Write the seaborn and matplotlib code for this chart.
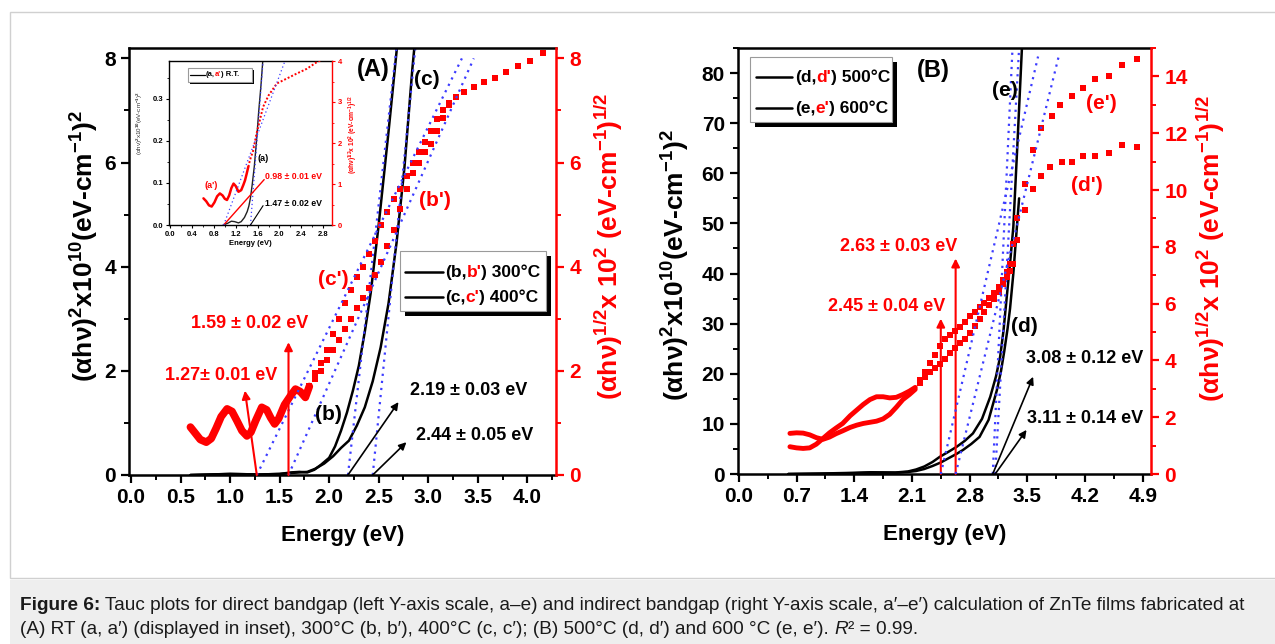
import matplotlib
matplotlib.use('Agg')
import matplotlib.pyplot as plt
import seaborn as sns
from matplotlib.patches import Rectangle
from matplotlib.lines import Line2D
from matplotlib.offsetbox import TextArea, HPacker, AnnotationBbox
from matplotlib.ticker import MultipleLocator, FormatStrFormatter

# ---------------- data ----------------
# Panel A, left axis: (alpha h nu)^2 x 10^10
E_b = [0.60, 1.00, 1.30, 1.50, 1.62, 1.70, 1.78, 1.85, 1.92, 2.00, 2.06, 2.12, 2.18, 2.24, 2.30, 2.36, 2.42, 2.50, 2.60, 2.70]
y_b = [0.00, 0.02, 0.01, 0.02, 0.05, 0.06, 0.05, 0.10, 0.20, 0.33, 0.55, 0.85, 1.20, 1.62, 2.10, 2.75, 3.50, 4.80, 6.60, 8.50]
E_c = [0.60, 1.00, 1.30, 1.50, 1.62, 1.70, 1.78, 1.86, 1.95, 2.04, 2.12, 2.20, 2.28, 2.36, 2.44, 2.52, 2.60, 2.68, 2.76, 2.84, 2.92]
y_c = [0.00, 0.02, 0.01, 0.02, 0.04, 0.05, 0.06, 0.12, 0.22, 0.36, 0.52, 0.66, 0.95, 1.30, 1.80, 2.45, 3.30, 4.45, 5.90, 7.80, 9.40]
# Panel A, right axis: (alpha h nu)^1/2 x 10^2 (overlapping low-energy part of b', c')
EA_osc = [0.60, 0.65, 0.70, 0.76, 0.81, 0.86, 0.91, 0.97, 1.02, 1.07, 1.12, 1.17, 1.21, 1.26, 1.32, 1.37, 1.41, 1.45, 1.49, 1.55, 1.61, 1.66, 1.71, 1.76, 1.80]
yA_osc = [0.92, 0.80, 0.68, 0.63, 0.70, 0.90, 1.12, 1.27, 1.22, 1.04, 0.85, 0.75, 0.82, 1.05, 1.30, 1.25, 1.10, 0.98, 1.08, 1.35, 1.52, 1.65, 1.60, 1.49, 1.70]
E_cp = [1.80, 1.86, 1.92, 1.98, 2.04, 2.10, 2.16, 2.22, 2.28, 2.34, 2.40, 2.46, 2.52, 2.58, 2.65, 2.72, 2.79, 2.85, 2.91, 2.97, 3.03, 3.09, 3.15, 3.21,
        3.28, 3.36, 3.46, 3.56, 3.67, 3.79, 3.91, 4.03, 4.16]
y_cp = [1.70, 1.95, 2.15, 2.40, 2.70, 3.00, 3.30, 3.55, 3.80, 4.00, 4.25, 4.50, 4.80, 5.05, 5.30, 5.50, 5.75, 6.00, 6.20, 6.40, 6.60, 6.83, 7.00, 7.15,
        7.25, 7.35, 7.45, 7.54, 7.63, 7.73, 7.85, 7.95, 8.11]
E_bp = [1.80, 1.86, 1.92, 1.98, 2.04, 2.10, 2.16, 2.22, 2.28, 2.34, 2.40, 2.46, 2.52, 2.58, 2.65, 2.72, 2.79, 2.85, 2.91, 2.97, 3.03, 3.09, 3.15, 3.21]
y_bp = [1.70, 1.85, 2.00, 2.20, 2.40, 2.60, 2.80, 3.00, 3.20, 3.40, 3.60, 3.85, 4.10, 4.40, 4.70, 5.10, 5.50, 5.80, 6.00, 6.20, 6.35, 6.60, 6.85, 7.10]
# Panel A tangent fits
gapA_black = [2.19, 2.44]
topA_black = [2.68, 2.87]
gapA_red = [1.27, 1.59]
topA_red = [3.34, 3.46]

# Inset (RT film)
EI_a = [0.97, 1.05, 1.12, 1.18, 1.25, 1.30, 1.36, 1.41, 1.44, 1.47, 1.50, 1.54, 1.58, 1.62, 1.66, 1.70]
yI_a = [0.000, 0.004, 0.009, 0.008, 0.005, 0.008, 0.018, 0.032, 0.045, 0.065, 0.095, 0.14, 0.20, 0.27, 0.33, 0.40]
EI_osc = [0.61, 0.66, 0.71, 0.76, 0.81, 0.86, 0.91, 0.96, 1.00, 1.04, 1.08, 1.12, 1.16, 1.20, 1.25, 1.30, 1.34, 1.37, 1.40, 1.43]
yI_osc = [0.65, 0.58, 0.48, 0.45, 0.55, 0.70, 0.77, 0.72, 0.64, 0.61, 0.72, 0.90, 1.01, 0.95, 0.81, 0.85, 0.98, 1.09, 1.25, 1.42]
EI_ap = [1.43, 1.46, 1.52, 1.58, 1.64, 1.70, 1.80, 1.95, 2.13, 2.31, 2.50, 2.68, 2.80]
yI_ap = [1.42, 1.58, 1.82, 2.23, 2.55, 2.88, 3.16, 3.45, 3.57, 3.69, 3.81, 3.97, 4.05]
gapI_black, topI_black = 1.47, 1.70
gapI_red, topI_red = 0.98, 2.10

# Panel B, left axis
EB_e = [0.60, 1.00, 1.30, 1.60, 1.90, 2.05, 2.15, 2.25, 2.35, 2.44, 2.54, 2.64, 2.74, 2.84, 2.95, 3.05, 3.12, 3.17, 3.21, 3.25, 3.29, 3.33, 3.38, 3.44]
yB_e = [0.0, 0.1, 0.2, 0.35, 0.3, 0.5, 0.9, 1.5, 2.4, 3.45, 4.4, 5.4, 6.6, 8.1, 11.0, 15.4, 19.5, 23.4, 28.5, 35.3, 42.0, 49.3, 66.0, 87.0]
EB_d = [0.60, 1.00, 1.30, 1.60, 1.90, 2.05, 2.15, 2.25, 2.35, 2.45, 2.55, 2.64, 2.72, 2.82, 2.92, 3.03, 3.13, 3.18, 3.22, 3.26, 3.29, 3.33, 3.37, 3.40]
yB_d = [0.0, 0.05, 0.1, 0.25, 0.25, 0.4, 0.6, 1.0, 1.6, 2.3, 3.2, 4.0, 4.8, 6.0, 7.4, 10.8, 16.7, 20.5, 24.5, 29.0, 33.0, 40.0, 48.6, 55.0]
# Panel B, right axis
EB_line = [0.62, 0.70, 0.78, 0.86, 0.94, 1.02, 1.10, 1.18, 1.26, 1.35, 1.43, 1.51, 1.59, 1.67, 1.75, 1.83, 1.91, 1.99, 2.07, 2.14]
yB_dp_line = [1.43, 1.45, 1.44, 1.38, 1.28, 1.22, 1.30, 1.42, 1.52, 1.64, 1.72, 1.78, 1.82, 1.86, 1.94, 2.10, 2.35, 2.62, 2.80, 2.98]
yB_ep_line = [0.96, 0.92, 0.90, 0.92, 1.05, 1.25, 1.45, 1.62, 1.78, 2.05, 2.25, 2.45, 2.62, 2.72, 2.72, 2.68, 2.70, 2.80, 2.92, 3.05]
EB_ep = [2.20, 2.26, 2.32, 2.38, 2.44, 2.50, 2.56, 2.62, 2.68, 2.74, 2.80, 2.86, 2.92, 2.98, 3.04, 3.10, 3.16, 3.21, 3.25, 3.29, 3.33,
         3.37, 3.47, 3.57, 3.67, 3.80, 3.90, 4.04, 4.18, 4.32, 4.49, 4.65, 4.83]
yB_ep = [3.30, 3.60, 3.90, 4.20, 4.50, 4.75, 4.90, 5.02, 5.18, 5.36, 5.55, 5.72, 5.88, 6.03, 6.20, 6.38, 6.60, 6.82, 7.10, 7.41, 8.11,
         9.00, 10.20, 11.40, 12.20, 12.60, 13.00, 13.30, 13.60, 13.90, 14.00, 14.40, 14.60]
EB_dp = [2.20, 2.26, 2.32, 2.38, 2.44, 2.50, 2.56, 2.62, 2.68, 2.74, 2.80, 2.86, 2.92, 2.98, 3.04, 3.10, 3.16, 3.21, 3.25, 3.29, 3.33,
         3.37, 3.47, 3.57, 3.67, 3.78, 3.92, 4.04, 4.18, 4.32, 4.49, 4.65, 4.83]
yB_dp = [3.20, 3.40, 3.58, 3.74, 3.89, 4.05, 4.25, 4.42, 4.60, 4.77, 4.97, 5.20, 5.45, 5.70, 5.96, 6.15, 6.40, 6.70, 6.94, 7.15, 7.41,
         8.23, 9.29, 10.05, 10.50, 10.80, 11.00, 11.00, 11.20, 11.20, 11.30, 11.60, 11.50]
gapB_black = [3.08, 3.11]
topB_black = [3.32, 3.40]
gapB_red = [2.45, 2.63]
topB_red = [3.63, 3.88]

# ---------------- style ----------------
sns.set_theme(style='ticks')
plt.rcParams.update({
    'font.family': ['Liberation Sans', 'DejaVu Sans'],
    'font.weight': 'bold',
    'text.color': 'black',
    'axes.labelcolor': 'black',
    'axes.linewidth': 1.8,
    'xtick.major.width': 1.6, 'ytick.major.width': 1.6,
    'xtick.minor.width': 1.4, 'ytick.minor.width': 1.4,
    'xtick.major.size': 6, 'ytick.major.size': 6,
    'xtick.minor.size': 3.5, 'ytick.minor.size': 3.5,
    'xtick.direction': 'out', 'ytick.direction': 'out',
    'xtick.color': 'black', 'ytick.color': 'black',
    'xtick.labelcolor': 'black', 'ytick.labelcolor': 'black',
    'axes.edgecolor': 'black',
    'mathtext.fontset': 'custom',
    'mathtext.rm': 'Liberation Sans:bold',
    'mathtext.it': 'Liberation Sans:bold:italic',
    'mathtext.bf': 'Liberation Sans:bold',
    'mathtext.default': 'rm',
})

W, H = 1275, 644
fig = plt.figure(figsize=(W / 100, H / 100), dpi=100)
fig.patch.set_facecolor('white')


def rect(l, t, r, b):
    return [l / W, 1 - b / H, (r - l) / W, (b - t) / H]


fig.add_artist(Rectangle((10 / W, 1 - 578 / H), 1.0, (578 - 12) / H, transform=fig.transFigure,
                         facecolor='white', edgecolor='#d0d0d0', lw=1.0, zorder=-10))
fig.add_artist(Rectangle((10 / W, 0), 1.0, (644 - 580) / H, transform=fig.transFigure,
                         facecolor='#eeeeee', edgecolor='none', zorder=-10))

RED = '#ff0000'
BLUE = '#3c3cff'


def style_pair(ax, axr, xmaj, xmin, ymaj, ymin, rmaj, rmin, xfmt, yfmt, rfmt, lsize, lw=1.8):
    ax.xaxis.set_major_locator(MultipleLocator(xmaj))
    ax.xaxis.set_minor_locator(MultipleLocator(xmin))
    ax.yaxis.set_major_locator(MultipleLocator(ymaj))
    ax.yaxis.set_minor_locator(MultipleLocator(ymin))
    ax.xaxis.set_major_formatter(FormatStrFormatter(xfmt))
    ax.yaxis.set_major_formatter(FormatStrFormatter(yfmt))
    ax.tick_params(axis='both', which='both', top=False, right=False, labelsize=lsize,
                   colors='black', labelcolor='black')
    ax.spines['right'].set_visible(False)
    for s in ['left', 'top', 'bottom']:
        ax.spines[s].set_linewidth(lw)
        ax.spines[s].set_color('black')
    for s in ['left', 'top', 'bottom']:
        axr.spines[s].set_visible(False)
    axr.spines['right'].set_color(RED)
    axr.spines['right'].set_linewidth(lw)
    axr.yaxis.set_major_locator(MultipleLocator(rmaj))
    axr.yaxis.set_minor_locator(MultipleLocator(rmin))
    axr.yaxis.set_major_formatter(FormatStrFormatter(rfmt))
    axr.tick_params(axis='y', which='both', colors=RED, labelcolor=RED, labelsize=lsize)
    for lab in ax.get_xticklabels() + ax.get_yticklabels() + axr.get_yticklabels():
        lab.set_fontweight('bold')


def tangent(ax, x0, x1, ytop, lw=1.6):
    sns.lineplot(x=[x0, x1], y=[0, ytop], ax=ax, color=BLUE, lw=lw, linestyle=(0, (1, 2.2)),
                 sort=False, estimator=None)


def mixed(parts, x_px, y_px, size, ha=0.0, va=0.5, z=30):
    boxes = [TextArea(t, textprops=dict(color=c, fontsize=size, fontweight=w, fontstyle=st))
             for t, c, w, st in parts]
    pack = HPacker(children=boxes, sep=0, pad=0, align='baseline')
    ab = AnnotationBbox(pack, (x_px, H - y_px), xycoords='figure pixels', box_alignment=(ha, va),
                        frameon=False, pad=0, annotation_clip=False)
    ab.set_zorder(z)
    fig.add_artist(ab)


def legend_box(l, t, r, b, off, rows, size, hx0, hx1, tx, lw_h=1.8):
    fig.add_artist(Rectangle(((l + off) / W, 1 - (b + off) / H), (r - l) / W, (b - t) / H,
                             transform=fig.transFigure, facecolor='black', edgecolor='none', zorder=24))
    fig.add_artist(Rectangle((l / W, 1 - b / H), (r - l) / W, (b - t) / H, transform=fig.transFigure,
                             facecolor='white', edgecolor='#9a9a9a', lw=0.8, zorder=25))
    for y, parts in rows:
        fig.add_artist(Line2D([hx0 / W, hx1 / W], [1 - y / H, 1 - y / H], transform=fig.transFigure,
                              color='black', lw=lw_h, zorder=26))
        mixed(parts, tx, y, size, z=27)


LBL_L = r'(αhν)$^{2}$x10$^{10}$(eV-cm$^{-1}$)$^{2}$'
LBL_R = r'(αhν)$^{1/2}$x 10$^{2}$ (eV-cm$^{-1}$)$^{1/2}$'

# ---------------- panel A ----------------
axA = fig.add_axes(rect(129, 48, 556, 475))
axAR = axA.twinx()
sns.lineplot(x=E_b, y=y_b, ax=axA, color='black', lw=1.8, sort=False, estimator=None)
sns.lineplot(x=E_c, y=y_c, ax=axA, color='black', lw=1.8, sort=False, estimator=None)
for g, t in zip(gapA_black, topA_black):
    tangent(axA, g, t, 8.2)
sns.lineplot(x=EA_osc, y=yA_osc, ax=axAR, color=RED, lw=5.5, sort=False, estimator=None)
sns.scatterplot(x=E_cp, y=y_cp, ax=axAR, color=RED, marker='s', s=24, linewidth=0)
sns.scatterplot(x=E_bp, y=y_bp, ax=axAR, color=RED, marker='s', s=24, linewidth=0)
for g, t in zip(gapA_red, topA_red):
    tangent(axAR, g, t, 8.0)
axA.set_xlim(-0.02, 4.29)
axA.set_ylim(0, 8.2)
axAR.set_ylim(0, 8.2)
style_pair(axA, axAR, 0.5, 0.25, 2, 1, 2, 1, '%.1f', '%d', '%d', 15)
axA.set_xlabel('Energy (eV)', fontsize=16, fontweight='bold', labelpad=13)
axA.set_ylabel(LBL_L, fontsize=19, fontweight='bold')
axA.yaxis.set_label_coords(-0.066, 0.536)
axAR.set_ylabel(LBL_R, fontsize=19, fontweight='bold', color=RED)
axAR.yaxis.set_label_coords(1.087, 0.535)

arr_r = dict(arrowstyle='-|>', color=RED, lw=1.5, mutation_scale=12, shrinkA=0, shrinkB=0)
arr_k = dict(arrowstyle='-|>', color='black', lw=1.2, mutation_scale=11, shrinkA=0, shrinkB=0)
axAR.annotate('', xy=(1.15, 1.62), xytext=(1.27, 0), arrowprops=arr_r)
axAR.annotate('', xy=(1.59, 2.55), xytext=(1.59, 0), arrowprops=arr_r)
axAR.annotate('', xy=(2.70, 1.40), xytext=(2.19, 0), arrowprops=arr_k)
axAR.annotate('', xy=(2.78, 0.63), xytext=(2.44, 0), arrowprops=arr_k)
axAR.text(0.91, 1.91, '1.27± 0.01 eV', color=RED, fontsize=13, fontweight='bold', ha='center', va='center')
axAR.text(1.20, 2.90, '1.59 ± 0.02 eV', color=RED, fontsize=13, fontweight='bold', ha='center', va='center')
axAR.text(3.41, 1.62, '2.19 ± 0.03 eV', color='black', fontsize=13, fontweight='bold', ha='center', va='center')
axAR.text(3.47, 0.75, '2.44 ± 0.05 eV', color='black', fontsize=13, fontweight='bold', ha='center', va='center')
axAR.text(2.45, 7.79, '(A)', color='black', fontsize=17, fontweight='bold', ha='center', va='center')
axAR.text(2.99, 7.60, '(c)', color='black', fontsize=15, fontweight='bold', ha='center', va='center')
axAR.text(1.99, 1.17, '(b)', color='black', fontsize=15, fontweight='bold', ha='center', va='center')
axAR.text(3.07, 5.27, "(b')", color=RED, fontsize=15, fontweight='bold', ha='center', va='center')
axAR.text(2.04, 3.76, "(c')", color=RED, fontsize=15, fontweight='bold', ha='center', va='center')

# ---------------- inset ----------------
axI = fig.add_axes(rect(169, 61, 332, 225))
axI.set_zorder(10)
axIR = axI.twinx()
axIR.set_zorder(11)
axI.patch.set_facecolor('white')
sns.lineplot(x=EI_a, y=yI_a, ax=axI, color='#222222', lw=1.0, sort=False, estimator=None)
tangent(axI, gapI_black, topI_black, 0.39, lw=0.9)
sns.lineplot(x=EI_osc, y=yI_osc, ax=axIR, color=RED, lw=1.8, sort=False, estimator=None)
sns.lineplot(x=EI_ap, y=yI_ap, ax=axIR, color=RED, lw=1.4, linestyle=(0, (1, 1)), sort=False, estimator=None)
tangent(axIR, gapI_red, topI_red, 4.0, lw=0.9)
axI.set_xlim(-0.02, 2.96)
axI.set_ylim(0, 0.39)
axIR.set_ylim(0, 4)
style_pair(axI, axIR, 0.4, 0.2, 0.1, 0.05, 1, 0.5, '%.1f', '%.1f', '%d', 5.5, lw=1.0)
axI.tick_params(axis='both', which='major', length=2.5, width=0.8, pad=1.5)
axI.tick_params(axis='both', which='minor', length=1.5, width=0.6)
axIR.tick_params(axis='y', which='major', length=2.5, width=0.8, pad=1.5)
axIR.tick_params(axis='y', which='minor', length=1.5, width=0.6)
axI.set_xlabel('Energy (eV)', fontsize=5.5, fontweight='bold', labelpad=1.5)
axI.set_ylabel(LBL_L, fontsize=4.5, fontweight='normal', color='#333333')
axI.yaxis.set_label_coords(-0.15, 0.62)
axIR.set_ylabel(LBL_R, fontsize=4.8, fontweight='bold', color=RED)
axIR.yaxis.set_label_coords(1.09, 0.55)
axI.plot([gapI_red, 1.72], [0, 0.108], color=RED, lw=1.0)
axI.plot([gapI_black, 1.70], [0, 0.046], color='black', lw=0.8)
axI.text(1.735, 0.115, '0.98 ± 0.01 eV', color=RED, fontsize=6.3, fontweight='bold', ha='left', va='center')
axI.text(1.735, 0.052, '1.47 ± 0.02 eV', color='black', fontsize=6.3, fontweight='bold', ha='left', va='center')
axI.text(1.70, 0.159, '(a)', color='black', fontsize=6.5, fontweight='bold', ha='center', va='center')
axI.text(0.76, 0.095, "(a')", color=RED, fontsize=6.5, fontweight='bold', ha='center', va='center')

# ---------------- panel B ----------------
axB = fig.add_axes(rect(738, 48, 1151, 474))
axBR = axB.twinx()
sns.lineplot(x=EB_e, y=yB_e, ax=axB, color='black', lw=1.8, sort=False, estimator=None)
sns.lineplot(x=EB_d, y=yB_d, ax=axB, color='black', lw=1.8, sort=False, estimator=None)
for g, t in zip(gapB_black, topB_black):
    tangent(axB, g, t, 85)
sns.lineplot(x=EB_line, y=yB_dp_line, ax=axBR, color=RED, lw=3.5, sort=False, estimator=None)
sns.lineplot(x=EB_line, y=yB_ep_line, ax=axBR, color=RED, lw=3.5, sort=False, estimator=None)
sns.scatterplot(x=EB_ep, y=yB_ep, ax=axBR, color=RED, marker='s', s=16, linewidth=0)
sns.scatterplot(x=EB_dp, y=yB_dp, ax=axBR, color=RED, marker='s', s=16, linewidth=0)
for g, t in zip(gapB_red, topB_red):
    tangent(axBR, g, t, 14.7)
axB.set_xlim(-0.01, 5.0)
axB.set_ylim(0, 85)
axBR.set_ylim(0, 15)
style_pair(axB, axBR, 0.7, 0.35, 10, 5, 2, 1, '%.1f', '%d', '%d', 15)
axB.set_xlabel('Energy (eV)', fontsize=16, fontweight='bold', labelpad=13)
axB.set_ylabel(LBL_L, fontsize=19, fontweight='bold')
axB.yaxis.set_label_coords(-0.112, 0.49)
axBR.set_ylabel(LBL_R, fontsize=19, fontweight='bold', color=RED)
axBR.yaxis.set_label_coords(1.107, 0.53)

axB.annotate('', xy=(2.45, 31.0), xytext=(2.45, 0), arrowprops=arr_r)
axB.annotate('', xy=(2.63, 43.0), xytext=(2.63, 0), arrowprops=arr_r)
axB.annotate('', xy=(3.57, 19.4), xytext=(3.08, 0), arrowprops=arr_k)
axB.annotate('', xy=(3.49, 8.8), xytext=(3.11, 0), arrowprops=arr_k)
k = 15 / 85
axBR.text(1.94, 45.3 * k, '2.63 ± 0.03 eV', color=RED, fontsize=13, fontweight='bold', ha='center', va='center')
axBR.text(1.79, 33.4 * k, '2.45 ± 0.04 eV', color=RED, fontsize=13, fontweight='bold', ha='center', va='center')
axBR.text(4.20, 23.1 * k, '3.08 ± 0.12 eV', color='black', fontsize=13, fontweight='bold', ha='center', va='center')
axBR.text(4.20, 11.1 * k, '3.11 ± 0.14 eV', color='black', fontsize=13, fontweight='bold', ha='center', va='center')
axBR.text(2.36, 80.5 * k, '(B)', color='black', fontsize=17, fontweight='bold', ha='center', va='center')
axBR.text(3.23, 76.6 * k, '(e)', color='black', fontsize=15, fontweight='bold', ha='center', va='center')
axBR.text(3.47, 29.4 * k, '(d)', color='black', fontsize=15, fontweight='bold', ha='center', va='center')
axBR.text(4.40, 73.9 * k, "(e')", color=RED, fontsize=15, fontweight='bold', ha='center', va='center')
axBR.text(4.22, 57.6 * k, "(d')", color=RED, fontsize=15, fontweight='bold', ha='center', va='center')

# ---------------- legends ----------------
B, N = 'bold', 'normal'
legend_box(400, 251, 546, 311, 5,
           [(272, [('(b,', 'black', B, N), ("b'", RED, B, N), (') 300°C', 'black', B, N)]),
            (297, [('(c,', 'black', B, N), ("c'", RED, B, N), (') 400°C', 'black', B, N)])],
           12.5, 405, 443, 445)
legend_box(750, 57, 892, 122, 5,
           [(77, [('(d,', 'black', B, N), ("d'", RED, B, N), (') 500°C', 'black', B, N)]),
            (108, [('(e,', 'black', B, N), ("e'", RED, B, N), (') 600°C', 'black', B, N)])],
           12.5, 756, 792, 795)
legend_box(188, 68, 252, 82, 2,
           [(74.5, [('(a,', 'black', B, N), ("a'", RED, B, N), (') R.T.', 'black', B, N)])],
           5.5, 190, 205, 206, lw_h=0.9)

# ---------------- caption ----------------
CAP = '#1a1a1a'
mixed([('Figure 6:', CAP, B, N),
       (' Tauc plots for direct bandgap (left Y-axis scale, a–e) and indirect bandgap (right Y-axis scale, a′–e′) '
        'calculation of ZnTe films fabricated at', CAP, N, N)], 20, 606, 13.7, z=5)
mixed([('(A) RT (a, a′) (displayed in inset), 300°C (b, b′), 400°C (c, c′); (B) 500°C (d, d′) and 600 °C (e, e′). ',
        CAP, N, N), ('R', CAP, N, 'italic'), ('² = 0.99.', CAP, N, N)], 20, 630, 13.7, z=5)

fig.savefig('out.png', dpi=100, facecolor='white')
